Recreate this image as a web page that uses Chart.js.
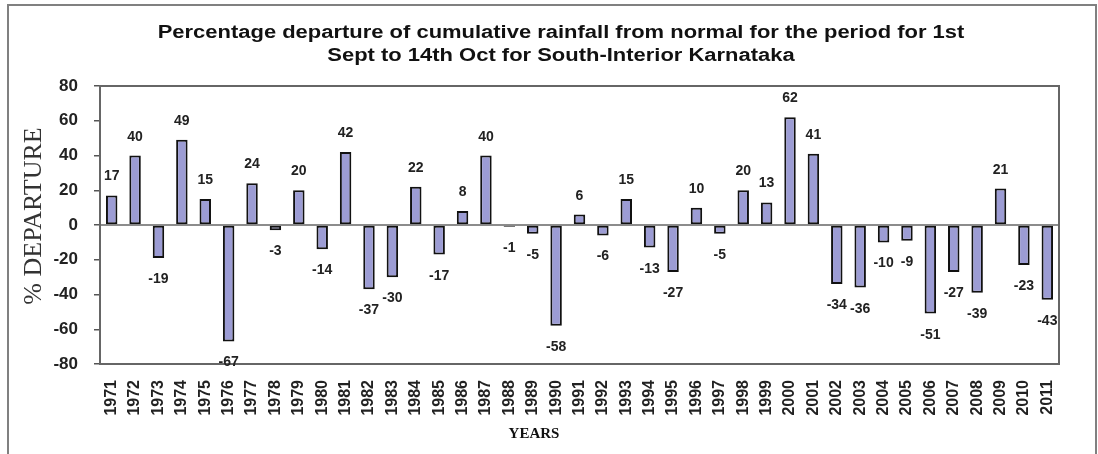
<!DOCTYPE html>
<html lang="en">
<head>
    <meta charset="UTF-8">
    <title>Percentage departure of cumulative rainfall</title>
    <script src="https://cdn.jsdelivr.net/npm/chart.js"></script>
    <style>
        body {
            margin: 0;
            padding: 0;
            background-color: white;
        }
        .chart-box {
            width: 1098px;
            height: 454px;
        }
    </style>
</head>
<body>

<div class="chart-box">
    <canvas id="departureChart"></canvas>
</div>

<script>
    // Data
    const years = [
        '1971', '1972', '1973', '1974', '1975', '1976', '1977', '1978', '1979', '1980',
        '1981', '1982', '1983', '1984', '1985', '1986', '1987', '1988', '1989', '1990',
        '1991', '1992', '1993', '1994', '1995', '1996', '1997', '1998', '1999', '2000',
        '2001', '2002', '2003', '2004', '2005', '2006', '2007', '2008', '2009', '2010', '2011'
    ];
    const departure = [
        17, 40, -19, 49, 15, -67, 24, -3, 20, -14,
        42, -37, -30, 22, -17, 8, 40, -1, -5, -58,
        6, -6, 15, -13, -27, 10, -5, 20, 13, 62,
        41, -34, -36, -10, -9, -51, -27, -39, 21, -23, -43
    ];
    const yTicks = [80, 60, 40, 20, 0, -20, -40, -60, -80];

    const titleLines = [
        'Percentage departure of cumulative rainfall from normal for the period for 1st',
        'Sept to 14th Oct for South-Interior Karnataka'
    ];
    const yTitle = '% DEPARTURE';
    const xTitle = 'YEARS';

    // frame, plot box, zero line, titles
    const decorPlugin = {
        id: 'decor',
        beforeDraw(chart) {
            const ctx = chart.ctx;
            ctx.save();
            ctx.fillStyle = 'white';
            ctx.fillRect(0, 0, chart.width, chart.height);
            ctx.strokeStyle = '#808080';
            ctx.lineWidth = 2;
            ctx.strokeRect(8, 5, 1088, 460);
            ctx.restore();
        },
        afterDatasetsDraw(chart) {
            const ctx = chart.ctx;
            const area = chart.chartArea;
            const y0 = chart.scales.y.getPixelForValue(0);
            ctx.save();
            ctx.strokeStyle = '#666';
            ctx.lineWidth = 2;
            ctx.strokeRect(area.left, area.top, area.right - area.left, area.bottom - area.top);
            ctx.lineWidth = 1.5;
            ctx.beginPath();
            ctx.moveTo(area.left, y0);
            ctx.lineTo(area.right, y0);
            ctx.stroke();

            // value labels
            ctx.fillStyle = '#222';
            ctx.font = 'bold 14px Arial, "Liberation Sans", sans-serif';
            ctx.textAlign = 'center';
            ctx.textBaseline = 'alphabetic';
            chart.getDatasetMeta(0).data.forEach(function (bar, i) {
                const v = departure[i];
                if (v >= 0) {
                    ctx.fillText(String(v), bar.x, bar.y - 15);
                } else {
                    ctx.fillText(String(v), bar.x, bar.y + 25);
                }
            });

            // axis titles
            ctx.fillStyle = '#111';
            ctx.textBaseline = 'middle';
            ctx.font = 'bold 15px "Times New Roman", "Liberation Serif", serif';
            ctx.fillText(xTitle, 534, 434);

            // chart title, stretched a little wider like the original
            ctx.save();
            ctx.font = 'bold 18px Arial, "Liberation Sans", sans-serif';
            ctx.translate(561, 0);
            ctx.scale(1.22, 1);
            ctx.fillText(titleLines[0], 0, 33);
            ctx.fillText(titleLines[1], 0, 56);
            ctx.restore();

            ctx.translate(34, 216);
            ctx.rotate(-Math.PI / 2);
            ctx.fillStyle = '#333';
            ctx.font = '26px "Times New Roman", "Liberation Serif", serif';
            ctx.fillText(yTitle, 0, 0);
            ctx.restore();
        }
    };

    new Chart(document.getElementById('departureChart'), {
        type: 'bar',
        data: {
            labels: years,
            datasets: [{
                label: '% departure',
                data: departure,
                backgroundColor: '#9c9cd4',
                borderColor: '#111',
                borderWidth: 2,
                borderSkipped: false,
                barPercentage: 0.49,
                categoryPercentage: 1.0
            }]
        },
        options: {
            responsive: true,
            maintainAspectRatio: false,
            animation: false,
            layout: {
                padding: { left: 0, right: 39, top: 86, bottom: 0 }
            },
            plugins: {
                legend: { display: false },
                tooltip: { enabled: false }
            },
            scales: {
                x: {
                    grid: { display: false, drawTicks: false },
                    border: { display: false },
                    ticks: {
                        minRotation: 90,
                        maxRotation: 90,
                        autoSkip: false,
                        padding: 16,
                        color: '#222',
                        font: { family: 'Arial, "Liberation Sans", sans-serif', size: 16, weight: 'bold' }
                    },
                    afterFit(scale) { scale.height = 90; }
                },
                y: {
                    min: -80,
                    max: 80,
                    afterBuildTicks(scale) {
                        scale.ticks = yTicks.map(v => ({ value: v }));
                    },
                    grid: { drawOnChartArea: false, drawTicks: true, tickLength: 6, color: '#555', lineWidth: 1.5 },
                    border: { display: false },
                    ticks: {
                        padding: 16,
                        color: '#222',
                        font: { family: 'Arial, "Liberation Sans", sans-serif', size: 17, weight: 'bold' }
                    },
                    afterFit(scale) { scale.width = 100; }
                }
            }
        },
        plugins: [decorPlugin]
    });
</script>

</body>
</html>
